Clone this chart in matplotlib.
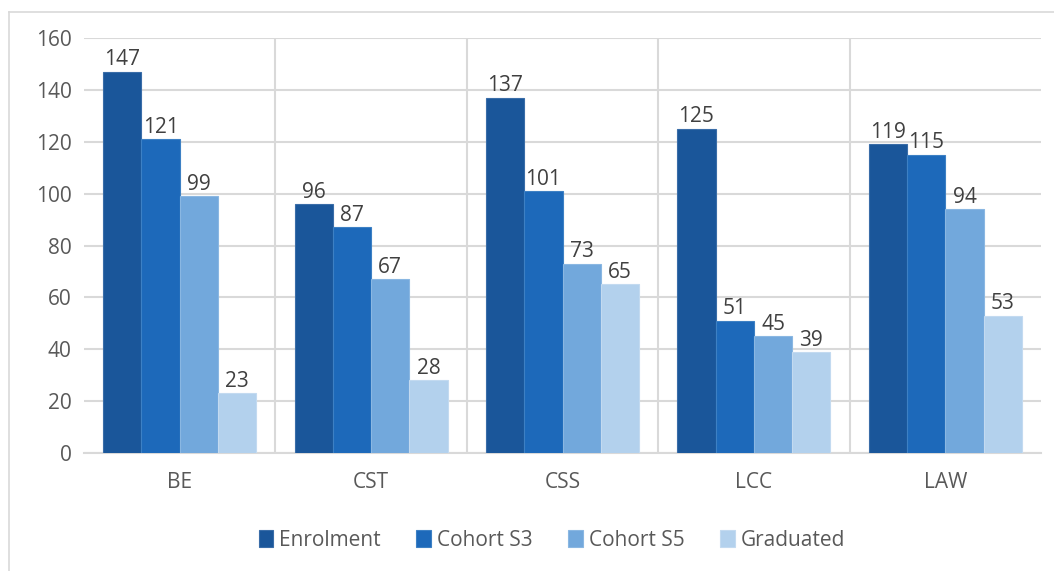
import matplotlib
matplotlib.use("Agg")
import matplotlib.pyplot as plt
from matplotlib.lines import Line2D
import numpy as np

categories = ["BE", "CST", "CSS", "LCC", "LAW"]
series_names = ["Enrolment", "Cohort S3", "Cohort S5", "Graduated"]
enrolment = [147, 96, 137, 125, 119]
cohort_s3 = [121, 87, 101, 51, 115]
cohort_s5 = [99, 67, 73, 45, 94]
graduated = [23, 28, 65, 39, 53]
yticks = [0, 20, 40, 60, 80, 100, 120, 140, 160]

colors = ["#1A569A", "#1D69BA", "#72A8DC", "#B3D1ED"]
edges = ["#3A6DA8", "#3D80C4", "#8AB7E2", "#C3DAF0"]

plt.rcParams['font.family'] = ['Open Sans', 'DejaVu Sans']

fig = plt.figure(figsize=(10.54, 5.71), dpi=100)
ax = fig.add_axes([84/1054, 1-453/571, (1041-84)/1054, (453-38)/571])

data = [enrolment, cohort_s3, cohort_s5, graduated]
x = np.arange(len(categories))
w = 0.2
for i, (vals, name) in enumerate(zip(data, series_names)):
    bars = ax.bar(x + (i - 1.5) * w, vals, width=w, color=colors[i],
                  edgecolor=edges[i], linewidth=0.8, label=name, zorder=3)
    for b, v in zip(bars, vals):
        ax.text(b.get_x() + b.get_width() / 2, v + 0.5, str(v),
                ha='center', va='bottom', fontsize=15, color='#404040', zorder=4)

ax.set_xlim(-0.5, len(categories) - 0.5)
ax.set_ylim(0, 160)
ax.set_yticks(yticks)
ax.set_xticks(x)
ax.set_xticklabels(categories)
ax.tick_params(axis='both', length=0, labelsize=15, colors='#595959')
ax.tick_params(axis='x', pad=14)
ax.tick_params(axis='y', pad=9)

ax.grid(axis='y', color='#D9D9D9', linewidth=1.5, zorder=0)
for b in np.arange(0.5, len(categories) - 0.5, 1):
    ax.axvline(b, color='#D9D9D9', linewidth=1.5, zorder=0)
for s in ['top', 'right', 'left']:
    ax.spines[s].set_visible(False)
ax.spines['bottom'].set_color('#D9D9D9')
ax.spines['bottom'].set_linewidth(1.5)

# outer frame (left and top edges)
fig.add_artist(Line2D([8.5/1054, 8.5/1054], [0, 1-12/571], color='#D9D9D9', lw=1.2))
fig.add_artist(Line2D([8.5/1054, 1], [1-12/571, 1-12/571], color='#D9D9D9', lw=1.2))

leg = fig.legend(loc='center', bbox_to_anchor=(552/1054, 1-540/571), ncol=4,
                 frameon=False, fontsize=15, handlelength=0.7, handleheight=0.9,
                 handletextpad=0.3, columnspacing=1.7)
for t in leg.get_texts():
    t.set_color('#595959')

fig.savefig("out.png", dpi=100)
